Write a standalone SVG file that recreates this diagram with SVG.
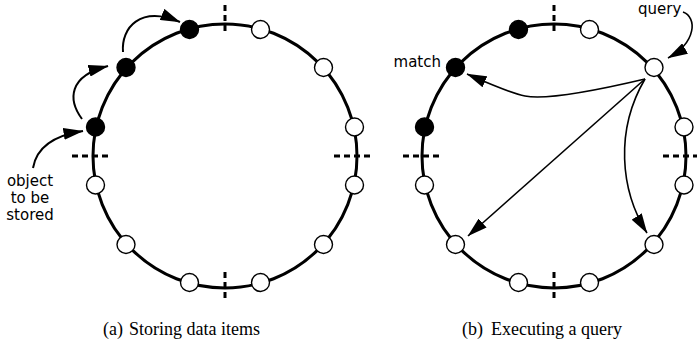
<svg xmlns="http://www.w3.org/2000/svg" width="697" height="345" viewBox="0 0 697 345">
<style>
.ring{fill:none;stroke:#000;stroke-width:3}
.dash{fill:none;stroke:#000;stroke-width:3;stroke-dasharray:6 4}
.on{fill:#fff;stroke:#000;stroke-width:1.4}
.fn{fill:#000;stroke:#000;stroke-width:1.4}
.arr{fill:none;stroke:#000;stroke-width:2;marker-end:url(#ah)}
.arr2{fill:none;stroke:#000;stroke-width:1.6;marker-end:url(#ah)}
.lbl{font-family:"DejaVu Sans",sans-serif;font-size:15px;fill:#000}
.cap{font-family:"Liberation Serif",serif;font-size:18px;fill:#000}
</style>
<defs>
<marker id="ah" markerUnits="userSpaceOnUse" markerWidth="20" markerHeight="12" refX="19.5" refY="6" orient="auto" viewBox="0 0 20 12">
<path d="M0,0 L20,6 L0,12 z" fill="#000"/>
</marker>
</defs>

<!-- rings and dashed markers -->
<g id="ring-a">
<circle class="ring" cx="225" cy="156" r="132"/>
<line class="dash" x1="225" y1="5" x2="225" y2="35"/>
<line class="dash" x1="225" y1="272" x2="225" y2="302"/>
<line class="dash" x1="72" y1="156" x2="112" y2="156"/>
<line class="dash" x1="334" y1="156" x2="374" y2="156"/>
</g>
<g id="ring-b">
<circle class="ring" cx="554" cy="156" r="132"/>
<line class="dash" x1="554" y1="5" x2="554" y2="35"/>
<line class="dash" x1="554" y1="272" x2="554" y2="302"/>
<line class="dash" x1="403" y1="156" x2="443" y2="156"/>
<line class="dash" x1="663" y1="156" x2="703" y2="156"/>
</g>

<!-- connectors -->
<g id="connectors">
<path class="arr" d="M33,168 C36,150 50,136 83,131"/>
<path class="arr" d="M82,119 C68,100 68,76 108,66"/>
<path class="arr" d="M123,52 C121,28 140,5 180,22"/>
<path class="arr2" d="M683,12 C697,17 697,42 668,58"/>
<path class="arr2" d="M645,79 C590,92 545,100 525,96 C510,93 490,84 467,74"/>
<path class="arr2" d="M645,79 L468,236"/>
<path class="arr2" d="M645,79 C615,130 620,190 647,233"/>
</g>

<!-- nodes ring a -->
<g id="a-n1"><circle class="fn" cx="95.5" cy="127" r="9"/></g>
<g id="a-n2"><circle class="fn" cx="126" cy="67.5" r="9"/></g>
<g id="a-n3"><circle class="fn" cx="189.5" cy="29.5" r="9"/></g>
<g id="a-n4"><circle class="on" cx="260.5" cy="29.5" r="9"/></g>
<g id="a-n5"><circle class="on" cx="323.5" cy="67.5" r="9"/></g>
<g id="a-n6"><circle class="on" cx="354.5" cy="127" r="9"/></g>
<g id="a-n7"><circle class="on" cx="354.5" cy="185" r="9"/></g>
<g id="a-n8"><circle class="on" cx="323.5" cy="244.5" r="9"/></g>
<g id="a-n9"><circle class="on" cx="260.5" cy="282.5" r="9"/></g>
<g id="a-n10"><circle class="on" cx="189.5" cy="282.5" r="9"/></g>
<g id="a-n11"><circle class="on" cx="126" cy="244.5" r="9"/></g>
<g id="a-n12"><circle class="on" cx="95.5" cy="185" r="9"/></g>

<!-- nodes ring b -->
<g id="b-n1"><circle class="fn" cx="424.5" cy="127" r="9"/></g>
<g id="b-n2"><circle class="fn" cx="455.5" cy="67.5" r="9"/></g>
<g id="b-n3"><circle class="fn" cx="518.5" cy="29.5" r="9"/></g>
<g id="b-n4"><circle class="on" cx="589.5" cy="29.5" r="9"/></g>
<g id="b-n5"><circle class="on" cx="654" cy="67.5" r="9"/></g>
<g id="b-n6"><circle class="on" cx="684" cy="127" r="9"/></g>
<g id="b-n7"><circle class="on" cx="684" cy="185" r="9"/></g>
<g id="b-n8"><circle class="on" cx="654" cy="244.5" r="9"/></g>
<g id="b-n9"><circle class="on" cx="589.5" cy="282.5" r="9"/></g>
<g id="b-n10"><circle class="on" cx="518.5" cy="282.5" r="9"/></g>
<g id="b-n11"><circle class="on" cx="455.5" cy="244.5" r="9"/></g>
<g id="b-n12"><circle class="on" cx="424.5" cy="185" r="9"/></g>

<!-- labels -->
<g id="label-object">
<text class="lbl" x="30" y="186" text-anchor="middle">object</text>
<text class="lbl" x="30" y="203" text-anchor="middle">to be</text>
<text class="lbl" x="30" y="220" text-anchor="middle">stored</text>
</g>
<g id="label-match"><text class="lbl" x="441" y="67" text-anchor="end">match</text></g>
<g id="label-query"><text class="lbl" x="638" y="14">query</text></g>

<g id="caption-a"><text class="cap" x="103" y="335">(a)</text><text class="cap" x="129" y="335">Storing data items</text></g>
<g id="caption-b"><text class="cap" x="462" y="335">(b)</text><text class="cap" x="491" y="335">Executing a query</text></g>
</svg>
